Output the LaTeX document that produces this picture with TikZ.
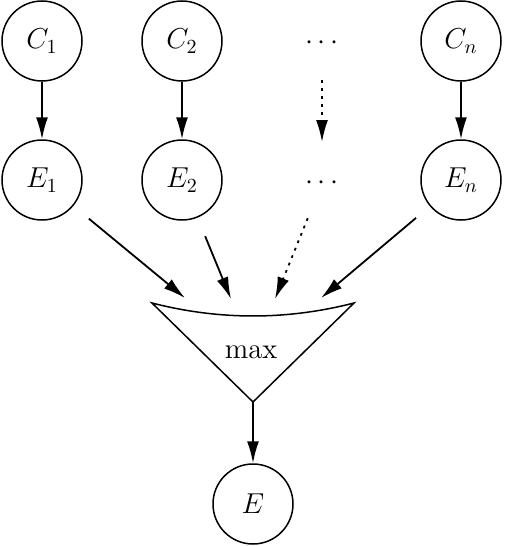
\documentclass[tikz,border=0pt]{standalone}
\usetikzlibrary{arrows.meta}
\begin{document}
\begin{tikzpicture}[x=0.5pt,y=-0.5pt,
  var/.style={circle,draw,line width=0.75pt,minimum size=40pt,inner sep=0pt,font=\Large},
  dotsnode/.style={inner sep=0pt,font=\Large},
  arr/.style={-{Latex[length=11pt,width=6pt]},line width=0.9pt},
  dotline/.style={dash pattern=on 1.4pt off 2.6pt},
  gate/.style={draw,line width=0.75pt,line join=miter},
]
\useasboundingbox (0,0) rectangle (504,546);
\node[var] (C1) at (42,41) {$C_1$};
\node[var] (C2) at (182,41) {$C_2$};
\node[dotsnode] (d1) at (322,43) {$\cdots$};
\node[var] (Cn) at (461,41) {$C_n$};
\node[var] (E1) at (42,180) {$E_1$};
\node[var] (E2) at (182,180) {$E_2$};
\node[dotsnode] (d2) at (322,183) {$\cdots$};
\node[var] (En) at (461,180) {$E_n$};
\node[var] (E) at (253,504) {$E$};

\draw[arr] (C1) -- (E1);
\draw[arr] (C2) -- (E2);
\draw[arr] (Cn) -- (En);
\draw[arr,dotline,shorten <=18.5pt,shorten >=20.5pt] (d1.center) -- (d2.center);

% max gate
\coordinate (gl) at (152,303);
\coordinate (gr) at (354,303);
\coordinate (gv) at (253,402);
\draw[gate] (gl) .. controls (219.3,320.3) and (286.7,320.3) .. (gr) -- (gv) -- cycle;
\node[font=\Large] (mx) at (251,352) {max};

\coordinate (t1) at (185,298);
\coordinate (t2) at (231,299);
\coordinate (t3) at (275,299);
\coordinate (t4) at (321,298);
\draw[arr,shorten <=10pt] (E1) -- (t1);
\draw[arr,shorten <=10pt] (E2) -- (t2);
\draw[arr,dotline,shorten <=19pt] (d2.center) -- (t3);
\draw[arr,shorten <=9pt] (En) -- (t4);
\draw[arr] (gv) -- (E);
\end{tikzpicture}
\end{document}
